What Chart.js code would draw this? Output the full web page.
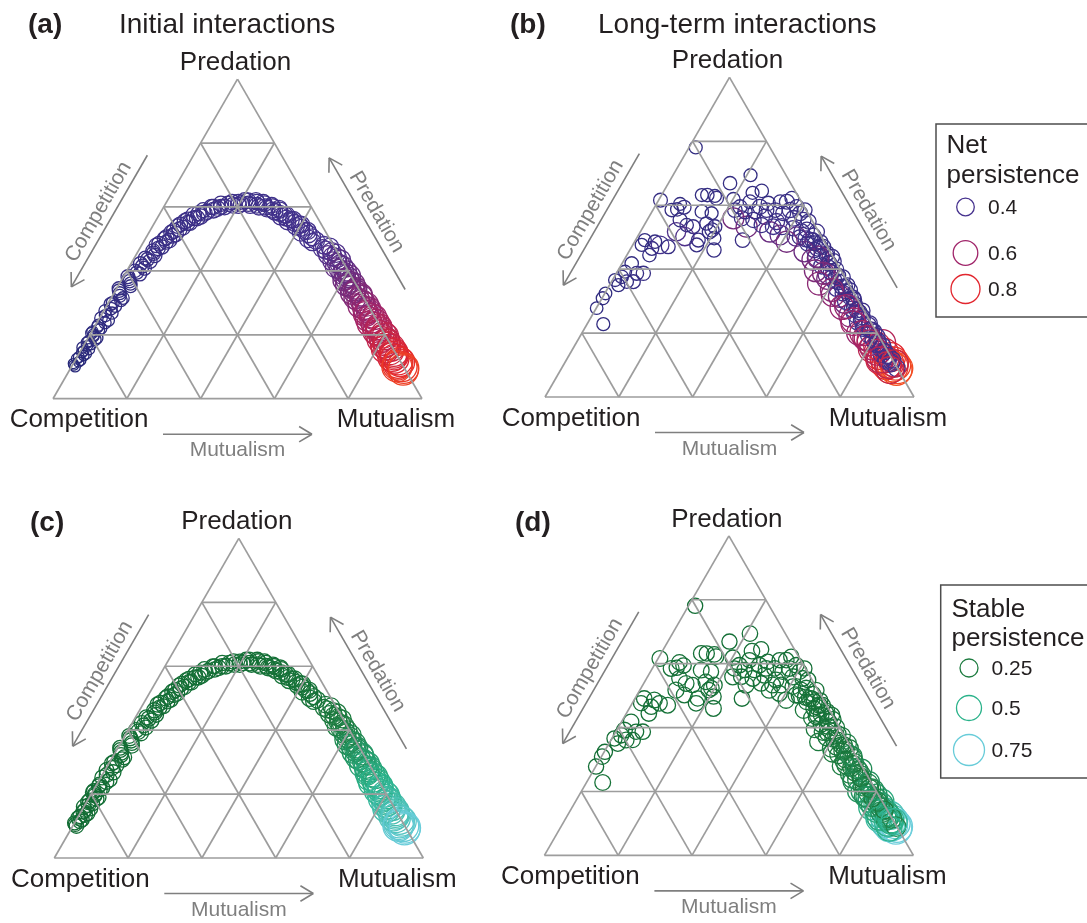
<!DOCTYPE html>
<html>
<head>
<meta charset="utf-8">
<script src="https://cdn.jsdelivr.net/npm/chart.js@4/dist/chart.umd.min.js"></script>
<style>
  body { margin: 0; background: #fff; width: 1087px; height: 923px; position: relative; overflow: hidden; }
  canvas { position: absolute; }
</style>
</head>
<body>
<canvas id="panelA" width="490" height="462" style="left:0;top:0"></canvas>
<canvas id="panelB" width="597" height="462" style="left:490px;top:0"></canvas>
<canvas id="panelC" width="490" height="461" style="left:0;top:462px"></canvas>
<canvas id="panelD" width="597" height="461" style="left:490px;top:462px"></canvas>
<script>
(function () {
  "use strict";

  // ---- Initial interactions (panels a and c): ternary fractions + persistence ----
  // rows: left limb, top arch, right limb, then a second pass over the same limbs
  const initPred = [
    0.10,0.11,0.12,0.13,0.14,0.15,0.16,0.17,0.18,0.19,0.20,0.21,0.22,0.23,0.245,0.26,0.275,0.29,0.30,0.315,0.33,0.345,0.36,0.375,0.39,0.40,0.415,0.43,0.44,0.455,
    0.47,0.48,0.49,0.50,0.51,0.52,0.53,0.54,0.55,0.555,0.565,0.57,0.58,0.585,0.59,0.60,0.60,0.61,0.605,0.615,0.62,0.61,0.62,0.605,0.615,0.60,0.605,0.59,0.595,0.58,0.575,0.565,0.56,0.55,0.545,0.535,0.525,0.515,0.505,0.495,
    0.48,0.47,0.46,0.45,0.44,0.43,0.42,0.41,0.40,0.39,0.38,0.37,0.36,0.35,0.34,0.33,0.32,0.31,0.30,0.29,0.28,0.27,0.26,0.25,0.24,0.23,0.22,0.21,0.20,0.19,0.18,0.17,0.16,0.15,0.14,0.13,0.12,0.11,0.10,0.09,
    0.105,0.115,0.125,0.135,0.145,0.155,0.165,0.175,0.185,0.195,0.205,0.215,0.225,0.238,0.252,0.268,0.282,0.296,0.308,0.322,0.338,0.352,0.368,0.382,0.395,0.408,0.422,0.436,0.448,0.462,
    0.485,0.475,0.505,0.495,0.525,0.515,0.545,0.535,0.56,0.55,0.575,0.565,0.59,0.58,0.60,0.595,0.61,0.60,0.615,0.605,0.61,0.62,0.605,0.615,0.60,0.61,0.595,0.60,0.585,0.59,0.57,0.575,0.555,0.56,0.54,0.545,0.52,0.525,0.50,0.49,
    0.475,0.465,0.455,0.445,0.435,0.425,0.415,0.405,0.395,0.385,0.375,0.365,0.355,0.345,0.335,0.325,0.315,0.305,0.295,0.285,0.275,0.265,0.255,0.245,0.235,0.225,0.215,0.205,0.195,0.185,0.175,0.165,0.155,0.145,0.135,0.125,0.115,0.105,0.095,0.10
  ];
  const initMut = [
    0.010,0.000,0.015,0.005,0.020,0.008,0.000,0.018,0.006,0.025,0.010,0.002,0.020,0.008,0.028,0.012,0.004,0.024,0.012,0.032,0.016,0.006,0.030,0.018,0.040,0.022,0.035,0.048,0.030,0.045,
    0.050,0.040,0.062,0.052,0.070,0.060,0.078,0.068,0.090,0.080,0.100,0.115,0.105,0.125,0.140,0.130,0.155,0.170,0.185,0.195,0.210,0.225,0.240,0.250,0.262,0.275,0.290,0.300,0.315,0.325,0.340,0.350,0.365,0.380,0.395,0.405,0.420,0.435,0.450,0.465,
    0.495,0.495,0.525,0.520,0.550,0.542,0.568,0.560,0.595,0.588,0.610,0.602,0.636,0.630,0.650,0.644,0.676,0.672,0.692,0.686,0.716,0.714,0.734,0.728,0.756,0.756,0.774,0.770,0.796,0.798,0.814,0.812,0.836,0.838,0.854,0.854,0.876,0.880,0.896,0.904,
    0.004,0.012,0.002,0.016,0.006,0.020,0.010,0.004,0.022,0.012,0.002,0.016,0.008,0.022,0.004,0.026,0.016,0.008,0.030,0.020,0.010,0.034,0.024,0.012,0.030,0.044,0.026,0.038,0.052,0.040,
    0.045,0.058,0.055,0.068,0.065,0.075,0.072,0.085,0.085,0.096,0.094,0.108,0.112,0.120,0.135,0.148,0.150,0.165,0.178,0.200,0.205,0.218,0.232,0.245,0.258,0.268,0.282,0.295,0.308,0.320,0.332,0.345,0.358,0.372,0.388,0.400,0.412,0.428,0.442,0.458,
    0.513,0.507,0.540,0.535,0.563,0.557,0.579,0.573,0.591,0.613,0.605,0.623,0.617,0.649,0.649,0.673,0.661,0.685,0.703,0.701,0.717,0.715,0.743,0.743,0.741,0.771,0.775,0.779,0.803,0.795,0.817,0.823,0.823,0.851,0.857,0.863,0.883,0.881,0.903,0.882
  ];
  const initNet = [
    0.22,0.21,0.22,0.23,0.22,0.23,0.24,0.23,0.24,0.24,0.25,0.24,0.25,0.26,0.25,0.26,0.27,0.27,0.28,0.27,0.28,0.29,0.28,0.29,0.30,0.29,0.30,0.31,0.30,0.31,
    0.31,0.32,0.31,0.32,0.33,0.32,0.33,0.32,0.33,0.34,0.33,0.34,0.33,0.34,0.35,0.34,0.33,0.34,0.35,0.34,0.35,0.34,0.36,0.35,0.35,0.36,0.35,0.36,0.37,0.36,0.37,0.36,0.37,0.38,0.37,0.38,0.38,0.39,0.38,0.39,
    0.40,0.41,0.42,0.43,0.44,0.44,0.45,0.46,0.47,0.47,0.48,0.49,0.50,0.50,0.51,0.52,0.53,0.54,0.55,0.56,0.58,0.59,0.60,0.61,0.63,0.64,0.65,0.66,0.68,0.69,0.70,0.72,0.73,0.75,0.77,0.78,0.80,0.83,0.85,0.88,
    0.21,0.22,0.23,0.22,0.23,0.24,0.23,0.24,0.25,0.24,0.25,0.26,0.25,0.26,0.27,0.26,0.27,0.28,0.27,0.28,0.29,0.28,0.29,0.30,0.29,0.30,0.31,0.30,0.31,0.32,
    0.32,0.31,0.33,0.32,0.33,0.34,0.33,0.32,0.34,0.33,0.35,0.34,0.33,0.35,0.34,0.35,0.34,0.35,0.34,0.36,0.35,0.34,0.36,0.35,0.36,0.35,0.37,0.36,0.37,0.36,0.38,0.37,0.38,0.37,0.39,0.38,0.39,0.38,0.40,0.39,
    0.40,0.41,0.42,0.43,0.44,0.45,0.45,0.46,0.47,0.48,0.49,0.49,0.50,0.51,0.52,0.53,0.53,0.55,0.56,0.57,0.58,0.60,0.61,0.62,0.63,0.65,0.66,0.67,0.69,0.70,0.71,0.73,0.74,0.76,0.78,0.79,0.82,0.84,0.87,0.86
  ];
  const initStable = [
    0.13,0.12,0.13,0.13,0.14,0.13,0.14,0.13,0.14,0.14,0.14,0.13,0.14,0.14,0.13,0.14,0.14,0.13,0.14,0.14,0.15,0.14,0.14,0.15,0.14,0.15,0.14,0.15,0.15,0.14,
    0.14,0.15,0.14,0.15,0.14,0.15,0.15,0.14,0.15,0.16,0.15,0.14,0.15,0.16,0.15,0.14,0.15,0.16,0.15,0.14,0.15,0.16,0.15,0.16,0.15,0.16,0.15,0.16,0.17,0.16,0.16,0.17,0.16,0.17,0.18,0.17,0.18,0.17,0.18,0.19,
    0.19,0.20,0.21,0.22,0.23,0.24,0.25,0.26,0.27,0.28,0.30,0.31,0.32,0.34,0.35,0.36,0.38,0.39,0.40,0.42,0.43,0.44,0.46,0.47,0.48,0.50,0.51,0.52,0.54,0.55,0.57,0.58,0.60,0.62,0.64,0.66,0.68,0.71,0.74,0.77,
    0.12,0.13,0.13,0.14,0.13,0.14,0.13,0.14,0.14,0.13,0.14,0.14,0.13,0.14,0.14,0.15,0.14,0.14,0.15,0.14,0.14,0.15,0.15,0.14,0.15,0.14,0.15,0.15,0.14,0.15,
    0.15,0.14,0.15,0.14,0.15,0.16,0.14,0.15,0.15,0.16,0.14,0.15,0.16,0.15,0.14,0.16,0.15,0.16,0.15,0.16,0.15,0.16,0.15,0.16,0.17,0.16,0.17,0.16,0.17,0.16,0.17,0.18,0.17,0.18,0.17,0.18,0.19,0.18,0.19,0.18,
    0.20,0.21,0.22,0.23,0.24,0.25,0.26,0.27,0.28,0.29,0.30,0.32,0.33,0.34,0.36,0.37,0.38,0.40,0.41,0.42,0.44,0.45,0.46,0.48,0.49,0.50,0.52,0.53,0.54,0.56,0.57,0.59,0.61,0.63,0.65,0.67,0.70,0.72,0.75,0.73
  ];

  // ---- Long-term interactions (panels b and d) ----
  // rows: mutualism tail, edge band (two passes), band, central cluster, scattered points
  const longPred = [
    0.18,0.20,0.17,0.16,0.15,0.14,0.13,0.125,0.12,0.115,0.11,0.105,0.10,0.10,0.095,0.09,0.09,0.085,
    0.505,0.495,0.485,0.465,0.445,0.435,0.425,0.405,0.385,0.375,0.365,0.345,0.335,0.325,0.315,0.305,0.295,0.285,0.275,0.265,0.255,0.245,0.235,0.225,0.215,0.205,0.195,0.185,0.175,0.165,0.155,0.145,0.135,0.125,0.115,0.105,
    0.50,0.49,0.48,0.47,0.46,0.455,0.45,0.44,0.43,0.42,0.41,0.40,0.395,0.39,0.38,0.37,0.36,0.355,0.35,0.34,0.33,0.32,0.31,0.30,0.29,0.28,0.27,0.26,0.25,0.24,0.23,0.22,0.21,0.20,0.19,0.18,0.17,0.16,0.15,0.14,0.13,0.12,0.11,0.10,
    0.470,0.439,0.418,0.439,0.387,0.376,0.345,0.335,0.314,0.283,0.272,0.241,0.231,0.210,0.184,0.168,0.142,0.116,0.116,0.090,0.105,0.084,
    0.585,0.559,0.533,0.580,0.595,0.564,0.606,0.585,0.611,0.611,0.585,0.559,0.575,0.585,0.549,0.517,0.507,0.528,0.517,0.486,0.549,0.517,0.491,0.611,0.595,0.559,0.538,0.554,0.533,0.595,0.622,0.575,0.554,0.502,0.580,0.585,0.533,0.523,0.481,
    0.781,0.694,0.669,0.639,0.645,0.632,0.632,0.629,0.616,0.619,0.604,0.587,0.594,0.580,0.575,0.554,0.538,0.533,0.543,0.533,0.517,0.517,0.502,0.476,0.497,0.460,0.491,0.486,0.465,0.476,0.470,0.444,0.476,0.418,0.392,0.387,0.387,0.361,0.366,0.350,0.324,0.309,0.278,0.228,0.491,0.361,0.376,0.585,0.523,0.491,0.622
  ];
  const longMut = [
    0.79,0.75,0.83,0.82,0.81,0.85,0.84,0.875,0.86,0.85,0.89,0.88,0.90,0.875,0.895,0.91,0.89,0.91,
    0.475,0.46,0.505,0.505,0.54,0.52,0.57,0.565,0.575,0.62,0.60,0.64,0.66,0.645,0.64,0.685,0.665,0.695,0.695,0.72,0.70,0.735,0.73,0.765,0.755,0.79,0.78,0.775,0.815,0.815,0.81,0.845,0.845,0.87,0.87,0.885,
    0.44,0.48,0.47,0.51,0.50,0.475,0.54,0.53,0.51,0.56,0.545,0.59,0.535,0.58,0.605,0.58,0.615,0.565,0.645,0.62,0.65,0.62,0.68,0.665,0.695,0.665,0.725,0.71,0.735,0.715,0.765,0.755,0.78,0.76,0.805,0.80,0.795,0.835,0.835,0.83,0.865,0.865,0.885,0.88,
    0.519,0.521,0.559,0.559,0.561,0.602,0.632,0.610,0.670,0.676,0.709,0.738,0.720,0.776,0.780,0.819,0.850,0.850,0.884,0.908,0.895,0.893,
    0.222,0.254,0.280,0.279,0.285,0.314,0.302,0.331,0.332,0.350,0.371,0.394,0.404,0.412,0.353,0.351,0.383,0.409,0.437,0.412,0.440,0.478,0.473,0.250,0.231,0.231,0.318,0.288,0.352,0.385,0.358,0.358,0.423,0.431,0.252,0.308,0.375,0.448,0.491,
    0.018,0.210,0.167,0.243,0.265,0.109,0.124,0.146,0.005,0.201,0.064,0.065,0.080,0.135,0.164,0.089,0.115,0.135,0.166,0.194,0.187,0.098,0.128,0.173,0.210,0.228,0.025,0.055,0.057,0.074,0.099,0.061,0.024,0.026,0.021,0.055,0.073,0.041,0.007,0.024,0.002,0.002,0.001,0.044,0.290,0.059,0.020,0.051,0.191,0.170,0.154
  ];
  const longNet = [
    0.62,0.58,0.66,0.70,0.68,0.74,0.76,0.80,0.78,0.74,0.84,0.82,0.87,0.80,0.88,0.90,0.86,0.91,
    0.33,0.36,0.31,0.34,0.32,0.46,0.33,0.35,0.48,0.32,0.36,0.34,0.31,0.35,0.52,0.33,0.50,0.34,0.36,0.33,0.55,0.35,0.37,0.34,0.36,0.33,0.38,0.60,0.35,0.37,0.62,0.36,0.40,0.35,0.42,0.38,
    0.32,0.34,0.31,0.33,0.35,0.48,0.32,0.34,0.50,0.33,0.36,0.31,0.52,0.34,0.32,0.50,0.35,0.55,0.32,0.36,0.33,0.56,0.34,0.37,0.33,0.58,0.34,0.38,0.35,0.60,0.34,0.37,0.35,0.62,0.35,0.38,0.64,0.36,0.37,0.66,0.36,0.40,0.37,0.70,
    0.33,0.50,0.34,0.32,0.52,0.35,0.34,0.55,0.36,0.58,0.35,0.38,0.60,0.36,0.62,0.38,0.36,0.66,0.37,0.38,0.72,0.70,
    0.32,0.33,0.50,0.31,0.33,0.34,0.31,0.32,0.30,0.33,0.34,0.35,0.33,0.31,0.36,0.48,0.46,0.34,0.35,0.50,0.33,0.34,0.36,0.30,0.31,0.50,0.33,0.34,0.35,0.32,0.30,0.33,0.34,0.45,0.31,0.32,0.36,0.34,0.33,
    0.28,0.28,0.29,0.28,0.29,0.28,0.29,0.28,0.30,0.29,0.28,0.29,0.30,0.29,0.28,0.30,0.29,0.30,0.29,0.30,0.31,0.42,0.42,0.30,0.29,0.31,0.28,0.29,0.30,0.40,0.30,0.29,0.28,0.29,0.28,0.30,0.31,0.29,0.28,0.28,0.27,0.28,0.27,0.28,0.32,0.30,0.29,0.29,0.31,0.30,0.30
  ];
  const longStable = [
    0.40,0.35,0.45,0.50,0.48,0.55,0.58,0.62,0.60,0.56,0.68,0.66,0.72,0.64,0.74,0.78,0.70,0.80,
    0.16,0.18,0.15,0.17,0.18,0.20,0.17,0.19,0.21,0.18,0.20,0.19,0.22,0.21,0.24,0.22,0.25,0.23,0.24,0.26,0.27,0.25,0.28,0.30,0.27,0.32,0.29,0.33,0.34,0.30,0.36,0.38,0.35,0.42,0.40,0.46,
    0.16,0.17,0.15,0.18,0.17,0.20,0.19,0.17,0.20,0.18,0.17,0.22,0.21,0.18,0.20,0.22,0.19,0.23,0.28,0.19,0.24,0.24,0.30,0.20,0.26,0.26,0.32,0.21,0.28,0.30,0.34,0.22,0.30,0.36,0.36,0.24,0.40,0.40,0.30,0.44,0.45,0.35,0.50,0.52,
    0.16,0.20,0.17,0.18,0.22,0.19,0.20,0.24,0.30,0.26,0.32,0.22,0.30,0.25,0.34,0.28,0.24,0.45,0.30,0.30,0.55,0.50,
    0.15,0.16,0.18,0.15,0.16,0.17,0.15,0.16,0.15,0.16,0.17,0.18,0.16,0.15,0.17,0.18,0.17,0.16,0.18,0.19,0.16,0.17,0.18,0.15,0.16,0.18,0.16,0.17,0.17,0.16,0.15,0.16,0.17,0.18,0.15,0.16,0.17,0.18,0.17,
    0.15,0.16,0.15,0.16,0.15,0.16,0.15,0.16,0.17,0.15,0.16,0.15,0.16,0.17,0.15,0.16,0.17,0.15,0.16,0.17,0.16,0.18,0.17,0.16,0.15,0.17,0.16,0.17,0.15,0.16,0.17,0.16,0.15,0.16,0.17,0.15,0.16,0.17,0.15,0.16,0.15,0.16,0.15,0.17,0.16,0.15,0.16,0.17,0.16,0.15,0.16
  ];

  // legend keys
  const netLegend = [0.4, 0.6, 0.8];
  const netLegendLabels = ['0.4', '0.6', '0.8'];
  const stableLegend = [0.25, 0.5, 0.75];
  const stableLegendLabels = ['0.25', '0.5', '0.75'];

  // ---- styles ----
  const FONT = '"Liberation Sans", Arial, Helvetica, sans-serif';
  const INK = '#231f20';
  const GREY = '#7f7f7f';
  const GRID = '#9d9d9d';
  const SIDE = 369;                 // triangle side in px
  const H3 = Math.sqrt(3) / 2;

  const netStops = [[0.2, [37, 40, 120]], [0.4, [70, 50, 142]], [0.6, [160, 37, 106]], [0.8, [226, 38, 46]], [0.95, [250, 92, 30]]];
  const stableStops = [[0.05, [10, 98, 44]], [0.25, [30, 124, 64]], [0.5, [42, 178, 138]], [0.75, [104, 204, 217]], [0.95, [130, 216, 230]]];
  const netSizes = [[0.2, 4.8], [0.3, 6.9], [0.4, 8.8], [0.6, 12.3], [0.8, 14.5], [0.95, 15.8]];
  const stableSizes = [[0.1, 6.6], [0.15, 7.6], [0.25, 9.0], [0.5, 12.5], [0.75, 15.5], [0.9, 16.5]];

  function interp(stops, v) {
    if (v <= stops[0][0]) return stops[0][1];
    for (let i = 1; i < stops.length; i++) {
      if (v <= stops[i][0]) {
        const t = (v - stops[i - 1][0]) / (stops[i][0] - stops[i - 1][0]);
        const a = stops[i - 1][1], b = stops[i][1];
        if (Array.isArray(a)) return a.map((c, k) => c + (b[k] - c) * t);
        return a + (b - a) * t;
      }
    }
    return stops[stops.length - 1][1];
  }
  const rgb = c => 'rgb(' + c.map(Math.round).join(',') + ')';
  const netColor = v => rgb(interp(netStops, v));
  const stableColor = v => rgb(interp(stableStops, v));
  const netR = v => interp(netSizes, v);
  const stableR = v => interp(stableSizes, v);

  // ternary (mutualism, predation) -> plane, side = 1
  function toXY(mut, pred) {
    return { x: mut + pred / 2, y: pred * H3 };
  }

  function gridSegments() {
    const segs = [];
    for (let k = 0; k < 5; k++) {
      const t = k / 5;
      segs.push([toXY(0, t), toXY(1 - t, t)]);       // constant predation
      segs.push([toXY(t, 0), toXY(t, 1 - t)]);       // constant mutualism
      segs.push([toXY(1 - t, 0), toXY(0, 1 - t)]);   // constant competition
    }
    return segs;
  }

  function drawArrowHead(ctx, tip, d) {
    const len = 15, ang = 0.54;
    ctx.beginPath();
    [ang, -ang].forEach(a => {
      const bx = -d.x * Math.cos(a) + d.y * Math.sin(a);
      const by = -d.x * Math.sin(a) - d.y * Math.cos(a);
      ctx.moveTo(tip.x + bx * len, tip.y + by * len);
      ctx.lineTo(tip.x, tip.y);
    });
    ctx.stroke();
  }

  // arrow parallel to edge A->B, outside the triangle
  function edgeArrow(ctx, A, B, G, off, s1, s2, headAtEnd, label, labOff) {
    const L = Math.hypot(B.x - A.x, B.y - A.y);
    const u = { x: (B.x - A.x) / L, y: (B.y - A.y) / L };
    let n = { x: -u.y, y: u.x };
    const mid = { x: (A.x + B.x) / 2, y: (A.y + B.y) / 2 };
    if (n.x * (mid.x - G.x) + n.y * (mid.y - G.y) < 0) n = { x: -n.x, y: -n.y };
    const p1 = { x: A.x + u.x * s1 + n.x * off, y: A.y + u.y * s1 + n.y * off };
    const p2 = { x: A.x + u.x * s2 + n.x * off, y: A.y + u.y * s2 + n.y * off };
    ctx.strokeStyle = GREY;
    ctx.lineWidth = 1.6;
    ctx.beginPath();
    ctx.moveTo(p1.x, p1.y);
    ctx.lineTo(p2.x, p2.y);
    ctx.stroke();
    if (headAtEnd) drawArrowHead(ctx, p2, u);
    else drawArrowHead(ctx, p1, { x: -u.x, y: -u.y });

    const c = { x: A.x + u.x * L / 2 + n.x * labOff, y: A.y + u.y * L / 2 + n.y * labOff };
    let rot = Math.atan2(u.y, u.x);
    if (rot > Math.PI / 2) rot -= Math.PI;
    if (rot < -Math.PI / 2) rot += Math.PI;
    ctx.save();
    ctx.translate(c.x, c.y);
    ctx.rotate(rot);
    ctx.fillStyle = GREY;
    ctx.font = '21px ' + FONT;
    ctx.textAlign = 'center';
    ctx.textBaseline = 'middle';
    ctx.fillText(label, 0, 0);
    ctx.restore();
  }

  function makeDeco(cfg) {
    return {
      id: 'ternaryDeco',
      afterDraw(chart) {
        const ctx = chart.ctx;
        const xs = chart.scales.x, ys = chart.scales.y;
        const P = (mut, pred) => {
          const q = toXY(mut, pred);
          return { x: xs.getPixelForValue(q.x), y: ys.getPixelForValue(q.y) };
        };
        const C = P(0, 0), M = P(1, 0), T = P(0, 1);
        const G = { x: (C.x + M.x + T.x) / 3, y: (C.y + M.y + T.y) / 3 };
        ctx.save();

        // panel letter and title
        ctx.fillStyle = INK;
        ctx.textAlign = 'left';
        ctx.textBaseline = 'alphabetic';
        ctx.font = 'bold 28px ' + FONT;
        ctx.fillText(cfg.letter, cfg.letterX, cfg.titleY);
        if (cfg.title) {
          ctx.font = '28px ' + FONT;
          ctx.fillText(cfg.title, cfg.titleX, cfg.titleY);
        }

        // vertex labels
        ctx.font = '26px ' + FONT;
        ctx.textAlign = 'center';
        ctx.fillText('Predation', T.x - 2, T.y - 9);
        ctx.fillText('Competition', C.x + 26, C.y + 28.5);
        ctx.fillText('Mutualism', M.x - 26, M.y + 28.5);

        // direction arrows
        edgeArrow(ctx, C, M, G, 35.5, 110, 259, true, 'Mutualism', 52);
        edgeArrow(ctx, C, T, G, 40, 106, 258, false, 'Competition', 54);
        edgeArrow(ctx, M, T, G, 40, 103, 255, true, 'Predation', 54);

        // legend
        const lg = cfg.legend;
        if (lg) {
          ctx.fillStyle = '#fff';
          ctx.fillRect(lg.x, lg.y, lg.w, lg.h);
          ctx.strokeStyle = '#4d4d4d';
          ctx.lineWidth = 1.5;
          ctx.strokeRect(lg.x, lg.y, lg.w, lg.h);
          ctx.fillStyle = INK;
          ctx.textAlign = 'left';
          ctx.textBaseline = 'alphabetic';
          ctx.font = '26px ' + FONT;
          lg.lines.forEach((t, i) => ctx.fillText(t, lg.textX, lg.lineY[i]));
          ctx.font = '21px ' + FONT;
          ctx.textBaseline = 'middle';
          lg.values.forEach((v, i) => {
            ctx.beginPath();
            ctx.arc(lg.cx, lg.cy[i], cfg.radius(v), 0, Math.PI * 2);
            ctx.strokeStyle = cfg.color(v);
            ctx.lineWidth = 1.3;
            ctx.stroke();
            ctx.fillStyle = INK;
            ctx.fillText(lg.labels[i], lg.labelX, lg.cy[i] + 1);
          });
        }
        ctx.restore();
      }
    };
  }

  function makePanel(id, cfg) {
    const canvas = document.getElementById(id);
    const W = canvas.width, Hc = canvas.height;
    const n = Math.min(cfg.pred.length, cfg.mut.length, cfg.values.length);
    const pts = [];
    for (let i = 0; i < n; i++) pts.push(toXY(cfg.mut[i], cfg.pred[i]));
    const vals = cfg.values.slice(0, n);

    // grid first so it is painted over the circles
    const datasets = gridSegments().map(seg => ({
      data: seg,
      showLine: true,
      fill: false,
      borderColor: GRID,
      borderWidth: 1.7,
      pointRadius: 0,
      pointHoverRadius: 0
    }));
    datasets.push({
      data: pts,
      showLine: false,
      pointRadius: vals.map(cfg.radius),
      pointHoverRadius: vals.map(cfg.radius),
      pointBorderColor: vals.map(cfg.color),
      pointBackgroundColor: 'rgba(0,0,0,0)',
      pointBorderWidth: 1.3
    });

    return new Chart(canvas, {
      type: 'scatter',
      data: { datasets: datasets },
      options: {
        responsive: false,
        animation: false,
        devicePixelRatio: 1,
        events: [],
        layout: { padding: 0, autoPadding: false },
        plugins: { legend: { display: false }, tooltip: { enabled: false } },
        scales: {
          x: { type: 'linear', display: false, min: -cfg.ox / SIDE, max: (W - cfg.ox) / SIDE },
          y: { type: 'linear', display: false, min: -(Hc - cfg.oy) / SIDE, max: cfg.oy / SIDE }
        }
      },
      plugins: [makeDeco(cfg)]
    });
  }

  makePanel('panelA', {
    ox: 53, oy: 398.7, pred: initPred, mut: initMut, values: initNet,
    radius: netR, color: netColor,
    letter: '(a)', letterX: 28, titleY: 33, title: 'Initial interactions', titleX: 119
  });
  makePanel('panelB', {
    ox: 55, oy: 397, pred: longPred, mut: longMut, values: longNet,
    radius: netR, color: netColor,
    letter: '(b)', letterX: 20, titleY: 33, title: 'Long-term interactions', titleX: 108,
    legend: {
      x: 446, y: 124, w: 160, h: 193, lines: ['Net', 'persistence'], textX: 456.5, lineY: [153, 183],
      values: netLegend, labels: netLegendLabels, cx: 475.5, cy: [207, 253, 289], labelX: 498
    }
  });
  makePanel('panelC', {
    ox: 54.3, oy: 396, pred: initPred, mut: initMut, values: initStable,
    radius: stableR, color: stableColor,
    letter: '(c)', letterX: 30, titleY: 69
  });
  makePanel('panelD', {
    ox: 54.4, oy: 393.4, pred: longPred, mut: longMut, values: longStable,
    radius: stableR, color: stableColor,
    letter: '(d)', letterX: 25, titleY: 69,
    legend: {
      x: 450.7, y: 123, w: 160, h: 193, lines: ['Stable', 'persistence'], textX: 461.5, lineY: [155, 184],
      values: stableLegend, labels: stableLegendLabels, cx: 479, cy: [206, 246, 288], labelX: 501.5
    }
  });
})();
</script>
</body>
</html>
